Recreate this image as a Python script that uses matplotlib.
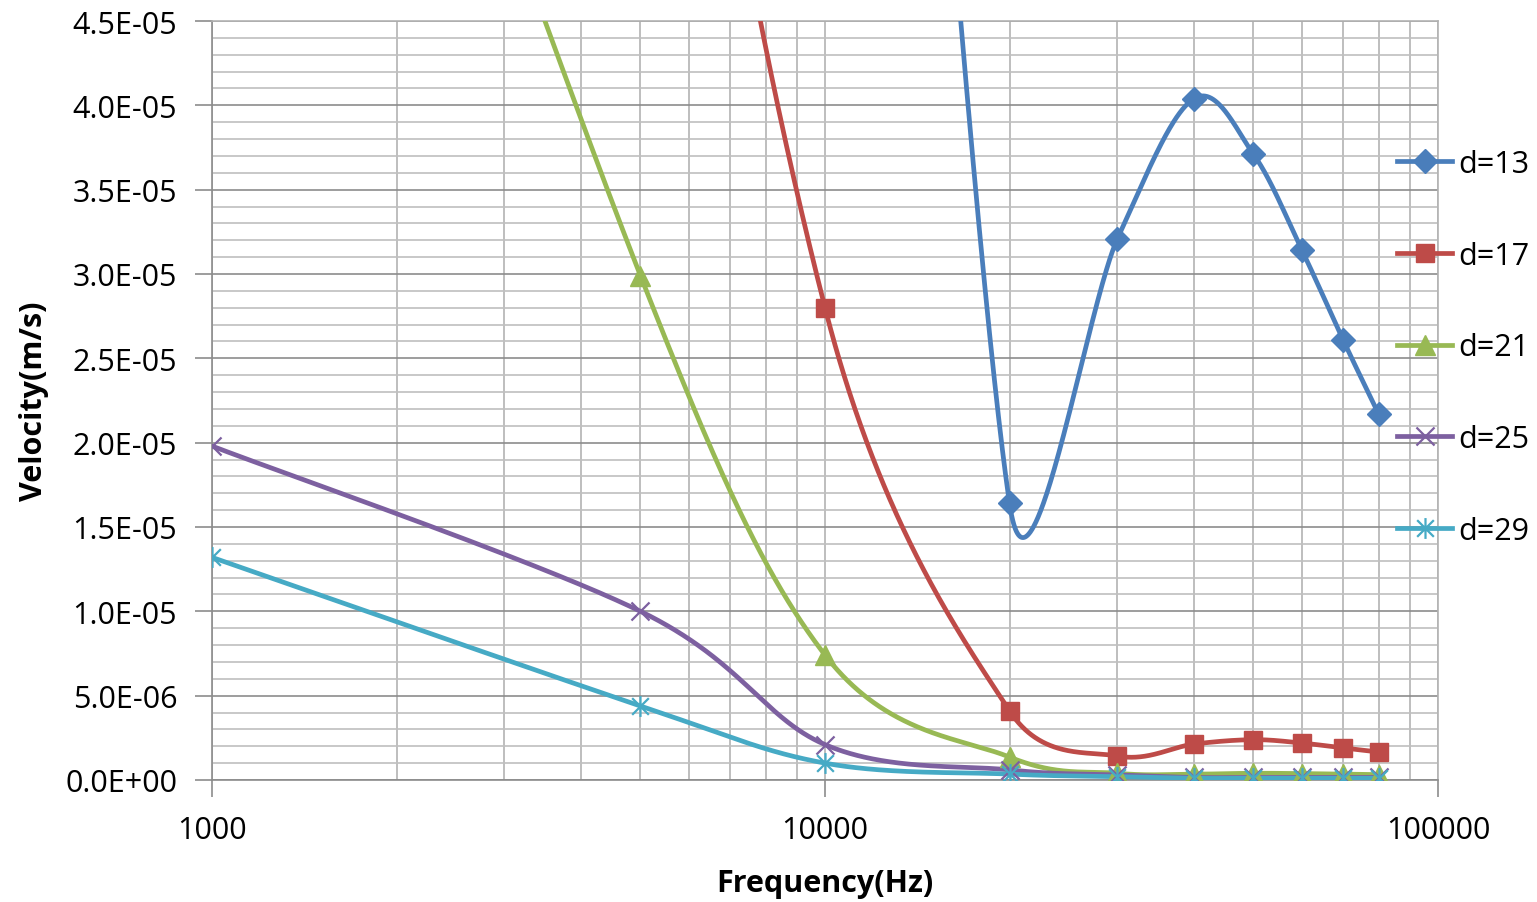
import numpy as np
import matplotlib
matplotlib.use("Agg")
import matplotlib.pyplot as plt
from matplotlib.lines import Line2D
from matplotlib.path import Path
from matplotlib.ticker import FixedLocator, FuncFormatter, NullFormatter

plt.rcParams['font.family'] = ['Open Sans', 'DejaVu Sans']

# Data (values above 4.5E-05 are off-chart estimates)
freq = [1000, 5000, 10000, 20000, 30000, 40000, 50000, 60000, 70000, 80000]
v_d13 = [np.nan, np.nan, 1.5e-4, 1.64e-5, 3.21e-5, 4.04e-5, 3.71e-5, 3.14e-5, 2.61e-5, 2.17e-5]
v_d17 = [3.0e-4, 9.0e-5, 2.80e-5, 4.1e-6, 1.42e-6, 2.13e-6, 2.39e-6, 2.19e-6, 1.9e-6, 1.66e-6]
v_d21 = [1.0e-4, 2.99e-5, 7.41e-6, 1.36e-6, 4.0e-7, 3.5e-7, 4.0e-7, 3.8e-7, 3.5e-7, 3.2e-7]
v_d25 = [1.98e-5, 1.0e-5, 2.1e-6, 6.0e-7, 3.0e-7, 1.5e-7, 1.5e-7, 1.5e-7, 1.5e-7, 1.5e-7]
v_d29 = [1.32e-5, 4.39e-6, 1.0e-6, 3.5e-7, 2.0e-7, 1.0e-7, 1.0e-7, 1.0e-7, 1.0e-7, 1.0e-7]

labels = ['d=13', 'd=17', 'd=21', 'd=25', 'd=29']
series = [v_d13, v_d17, v_d21, v_d25, v_d29]
colors = ['#4A7EBB', '#BE4B48', '#98B954', '#7D60A0', '#46AAC5']

# Excel-like markers
x_marker = Path([(-1, -1), (1, 1), (-1, 1), (1, -1)],
                [Path.MOVETO, Path.LINETO, Path.MOVETO, Path.LINETO])
star_marker = Path([(-1, -1), (1, 1), (-1, 1), (1, -1), (0, -1.25), (0, 1.25)],
                   [Path.MOVETO, Path.LINETO, Path.MOVETO, Path.LINETO,
                    Path.MOVETO, Path.LINETO])
markers = [('D', 12, 1), ('s', 13, 1), ('^', 14, 1), (x_marker, 13, 1.6), (star_marker, 15, 1.6)]

YMAX = 4.5e-5
SX = 1226 / 2.0      # px per decade
SY = 759 / YMAX      # px per unit


def excel_smooth(xs, ys, n=300):
    """Bezier smoothing in screen space, similar to Excel's smoothed line."""
    xs = np.asarray(xs, float)
    ys = np.asarray(ys, float)
    ok = ~np.isnan(ys)
    pts = np.column_stack([np.log10(xs[ok]) * SX, ys[ok] * SY])
    m = len(pts)
    out = []
    t = np.linspace(0, 1, n)[:, None]
    for i in range(m - 1):
        p0 = pts[i - 1] if i > 0 else pts[i]
        p1 = pts[i]
        p2 = pts[i + 1]
        p3 = pts[i + 2] if i + 2 < m else pts[i + 1]
        d12 = np.hypot(*(p2 - p1))
        a = (p2 - p0) / 6.0
        b = (p3 - p1) / 6.0
        na, nb = np.hypot(*a), np.hypot(*b)
        if na > d12 / 2:
            a *= d12 / 2 / na
        if nb > d12 / 2:
            b *= d12 / 2 / nb
        c1 = p1 + a
        c2 = p2 - b
        seg = ((1 - t) ** 3) * p1 + 3 * ((1 - t) ** 2) * t * c1 \
            + 3 * (1 - t) * t ** 2 * c2 + t ** 3 * p2
        out.append(seg)
    curve = np.vstack(out)
    return 10 ** (curve[:, 0] / SX), curve[:, 1] / SY


fig = plt.figure(figsize=(15.37, 9.03), dpi=100)
ax = fig.add_axes([212 / 1537, 1 - 781 / 903, (1438 - 212) / 1537, (781 - 22) / 903])

handles = []
for vals, lab, col, (mk, ms, mew) in zip(series, labels, colors, markers):
    cx, cy = excel_smooth(freq, vals)
    ax.plot(cx, cy, color=col, lw=3.4, solid_capstyle='round', zorder=3)
    ax.plot(freq, vals, linestyle='none', marker=mk, markersize=ms,
            markerfacecolor=col, markeredgecolor=col, markeredgewidth=mew, zorder=4)
    handles.append(Line2D([], [], color=col, lw=3.4, marker=mk, markersize=ms,
                          markerfacecolor=col, markeredgecolor=col,
                          markeredgewidth=mew, label=lab))

ax.set_xscale('log')
ax.set_xlim(1000, 100000)
ax.set_ylim(0, YMAX)

ax.yaxis.set_major_locator(FixedLocator(np.arange(0, 4.51e-5, 5e-6)))
ax.yaxis.set_minor_locator(FixedLocator(np.arange(0, 4.51e-5, 1e-6)))
ax.yaxis.set_major_formatter(FuncFormatter(lambda v, p: f"{v:.1E}"))
ax.xaxis.set_major_locator(FixedLocator([1000, 10000, 100000]))
ax.xaxis.set_major_formatter(FuncFormatter(lambda v, p: f"{int(round(v))}"))
ax.xaxis.set_minor_locator(FixedLocator([k * 10 ** e for e in (3, 4) for k in range(2, 10)]))
ax.xaxis.set_minor_formatter(NullFormatter())

ax.grid(True, which='major', axis='y', color='#8C8C8C', lw=1.2)
ax.grid(True, which='minor', axis='y', color='#BFBFBF', lw=1.2)
ax.grid(True, which='both', axis='x', color='#B3B3B3', lw=1.2)
ax.set_axisbelow(True)

ax.tick_params(axis='both', which='major', direction='out', length=12, width=1.2,
               color='#8C8C8C', labelsize=22, pad=13)
ax.tick_params(axis='both', which='minor', length=0)
ax.tick_params(axis='x', pad=13)
for s in ('left', 'bottom'):
    ax.spines[s].set_color('#8C8C8C')
    ax.spines[s].set_linewidth(1.2)
for s in ('top', 'right'):
    ax.spines[s].set_color('#B3B3B3')
    ax.spines[s].set_linewidth(1.2)

ax.set_xlabel('Frequency(Hz)', fontsize=22, fontweight='bold', labelpad=17)
ax.set_ylabel('Velocity(m/s)', fontsize=22, fontweight='bold', labelpad=12)

fig.legend(handles=handles, loc='upper left', bbox_to_anchor=(1397 / 1537, 1 - 150 / 903),
           frameon=False, fontsize=22, handlelength=1.8, handletextpad=0.2,
           labelspacing=2.02, borderaxespad=0, borderpad=0)

fig.savefig('out.png', dpi=100)
